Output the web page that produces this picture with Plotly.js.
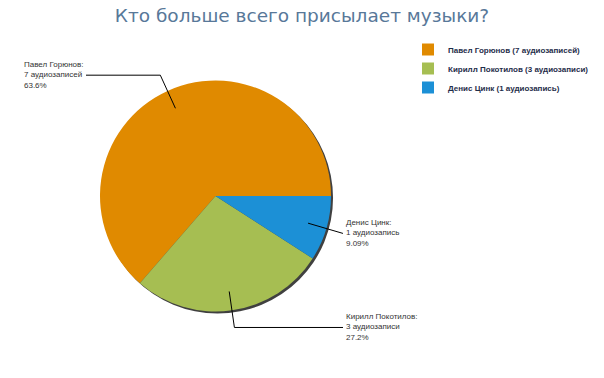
<!DOCTYPE html>
<html>
<head>
<meta charset="utf-8">
<script src="https://cdn.plot.ly/plotly-3.0.1.min.js"></script>
<style>html,body{margin:0;padding:0;background:#fff;}#chart{width:604px;height:378px;}</style>
</head>
<body>
<div id="chart"></div>
<script>
// ---- data ----
const names  = ["Павел Горюнов", "Кирилл Покотилов", "Денис Цинк"];
const counts = [7, 3, 1];
const units  = ["аудиозаписей", "аудиозаписи", "аудиозапись"];
const colors = ["#E08A00", "#A6BE52", "#1C90D6"];
const titleText = "Кто больше всего присылает музыки?";

// ---- geometry (pixels) ----
const W = 604, H = 378;
const cx = 215.5, cy = 196, R = 115.5;
const shadowDx = 2, shadowDy = 2;
const leftLabelEdge = 86, rightLabelEdge = 343;

const total = counts.reduce((a, b) => a + b, 0);
function pctText(v) {
  const p = v / total * 100;
  const digits = p >= 10 ? 1 : 2;
  const f = Math.pow(10, digits);
  return (Math.floor(p * f + 1e-9) / f).toFixed(digits) + "%";
}
const legendLabels = names.map((n, i) => n + " (" + counts[i] + " " + units[i] + ")");

const px = x => x / W;
const py = y => 1 - y / H;

function domainFor(dx, dy) {
  return {
    x: [px(cx + dx - R), px(cx + dx + R)],
    y: [py(cy + dy + R), py(cy + dy - R)]
  };
}

// leader lines + labels computed from the values
const shapes = [];
const annotations = [];
let cum = 0;
counts.forEach((v, i) => {
  const mid = (cum + v / 2) / total * 2 * Math.PI; // counterclockwise from east
  cum += v;
  const ux = Math.cos(mid), uy = -Math.sin(mid);
  const x0 = cx + ux * R * 0.835, y0 = cy + uy * R * 0.835;
  const x1 = cx + ux * R * 1.15,  y1 = cy + uy * R * 1.15;
  const right = ux >= 0;
  const x2 = right ? Math.max(rightLabelEdge, x1) : Math.min(leftLabelEdge, x1);
  shapes.push({type: "line", xref: "paper", yref: "paper",
    x0: px(x0), y0: py(y0), x1: px(x1), y1: py(y1), line: {color: "#000", width: 1}});
  shapes.push({type: "line", xref: "paper", yref: "paper",
    x0: px(x1), y0: py(y1), x1: px(x2), y1: py(y1), line: {color: "#000", width: 1}});
  annotations.push({
    xref: "paper", yref: "paper",
    x: px(right ? x2 + 1 : x2 - 1), y: py(y1),
    xanchor: right ? "left" : "right", yanchor: "middle", align: "left",
    showarrow: false,
    text: names[i] + ":<br>" + counts[i] + " " + units[i] + "<br>" + pctText(v),
    font: {family: "Liberation Sans, Arial, sans-serif", size: 8, color: "#333"}
  });
});

const shadow = {
  type: "pie", values: [total], labels: ["shadow"], sort: false,
  marker: {colors: ["rgba(0,0,0,0.75)"], line: {width: 0}},
  textinfo: "none", hoverinfo: "skip", showlegend: false,
  domain: domainFor(shadowDx, shadowDy)
};

// Plotly counterclockwise: first slice ends at `rotation`; we want it to start at 3 o'clock
const pie = {
  type: "pie", values: counts, labels: legendLabels, sort: false,
  direction: "counterclockwise", rotation: 90 - 360 * counts[0] / total,
  marker: {colors: colors, line: {width: 0}},
  textinfo: "none", hoverinfo: "label+percent",
  domain: domainFor(0, 0)
};

const layout = {
  width: W, height: H,
  margin: {l: 0, r: 0, t: 0, b: 0},
  paper_bgcolor: "#fff",
  title: {
    text: titleText, x: 0.5, xanchor: "center", y: 1 - 16 / H, yanchor: "middle",
    font: {family: "DejaVu Sans, sans-serif", size: 18.5, color: "#587899"}
  },
  showlegend: true,
  legend: {
    x: 408 / W, xanchor: "left", y: 1 - 35 / H, yanchor: "top",
    font: {family: "Liberation Sans, Arial, sans-serif", size: 8, color: "#1f2d4a", weight: "bold"},
    bgcolor: "rgba(0,0,0,0)"
  },
  shapes: shapes,
  annotations: annotations
};

Plotly.newPlot("chart", [shadow, pie], layout, {displayModeBar: false, staticPlot: true});
</script>
</body>
</html>
